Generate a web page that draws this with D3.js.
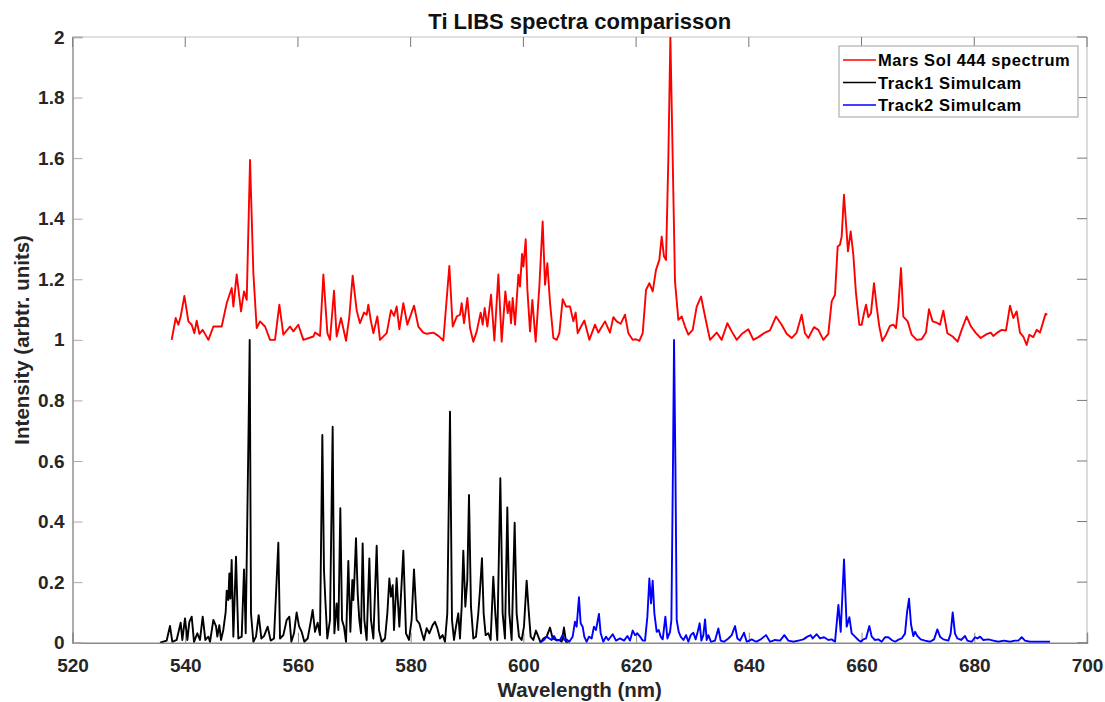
<!DOCTYPE html>
<html>
<head>
<title>Ti LIBS spectra comparisson | D3</title>
<script src="https://d3js.org/d3.v7.min.js" charset="utf-8"></script>
<style>
body {
 margin: 0;
 background: white;
 font-family: "Liberation Sans", Arial, sans-serif;
}
.tick text {
 font-size: 19px;
 font-weight: bold;
 fill: #262626;
}
</style>
</head>
<body>
<script>
// wavelength (nm), intensity pairs
var marsSpectrum = [
 [537.60,1.0],[538.31,1.072],[538.78,1.050],[539.20,1.077],[539.85,1.145],[540.56,1.061],[541.15,1.050],
 [541.62,1.022],[542.04,1.063],[542.51,1.020],[543.10,1.033],[544.11,1.0],[545.00,1.044],[546.47,1.044],
 [547.36,1.121],[548.25,1.171],[548.54,1.110],[549.13,1.216],[549.90,1.094],[550.43,1.160],[550.91,1.132],
 [551.50,1.594],[552.09,1.220],[552.68,1.039],[553.27,1.061],[554.16,1.044],[555.05,1.0],[555.93,1.0],
 [556.70,1.116],[557.41,1.017],[558.59,1.044],[559.19,1.028],[560.07,1.050],[560.96,1.0],[562.73,1.011],
 [563.03,1.024],[563.92,1.013],[564.51,1.216],[565.22,1.022],[565.69,1.0],[566.40,1.162],[566.87,1.011],
 [567.64,1.072],[568.53,0.997],[569.12,1.077],[569.71,1.212],[570.42,1.097],[571.01,1.055],[571.72,1.090],
 [572.20,1.083],[572.49,1.116],[572.91,1.066],[573.38,1.022],[574.09,1.077],[574.56,1.0],[575.75,1.022],
 [576.51,1.098],[577.05,1.079],[577.52,1.110],[577.99,1.035],[578.70,1.121],[579.41,1.050],[580.60,1.113],
 [581.36,1.044],[582.25,1.024],[582.84,1.020],[584.02,1.024],[584.91,1.013],[585.80,0.998],[586.86,1.244],
 [587.46,1.044],[588.17,1.077],[588.76,1.083],[589.05,1.121],[589.47,1.055],[590.06,1.138],[590.53,1.039],
 [591.12,0.994],[591.72,1.028],[592.42,1.090],[592.78,1.050],[593.13,1.105],[593.61,1.044],[594.26,1.149],
 [594.85,0.998],[595.56,1.216],[596.15,0.994],[596.80,1.160],[597.22,1.088],[597.51,1.127],[597.81,1.055],
 [598.10,1.138],[598.52,1.050],[599.11,1.215],[599.40,1.176],[599.76,1.284],[600.00,1.242],[600.41,1.332],
 [600.71,1.165],[601.18,1.028],[601.59,1.132],[602.18,0.994],[602.83,1.176],[603.42,1.391],[603.84,1.182],
 [604.25,1.253],[604.73,1.121],[605.32,1.006],[605.91,1.0],[606.38,1.022],[606.97,1.134],[607.57,1.110],
 [608.27,1.110],[608.87,1.061],[609.28,1.090],[609.63,1.022],[610.23,1.044],[610.82,1.064],[611.70,1.0],
 [612.71,1.050],[613.30,1.024],[614.48,1.061],[615.37,1.024],[615.96,1.075],[616.55,1.061],[617.26,1.053],
 [618.03,1.083],[618.62,1.022],[619.39,1.0],[619.98,1.002],[620.58,0.997],[621.17,1.022],[621.76,1.165],
 [622.35,1.187],[622.94,1.160],[623.53,1.231],[624.12,1.264],[624.54,1.341],[624.95,1.275],[625.31,1.264],
 [625.72,1.6],[626.08,2.0],[626.49,1.6],[626.90,1.193],[627.50,1.066],[628.09,1.077],[628.68,1.044],
 [629.27,1.017],[630.04,1.033],[630.75,1.110],[631.52,1.143],[632.23,1.077],[633.11,1.0],[634.30,1.024],
 [635.18,1.0],[636.19,1.055],[636.96,1.028],[637.84,1.0],[638.73,1.019],[639.91,1.035],[640.80,1.0],
 [641.69,1.009],[642.87,1.024],[643.75,1.031],[644.82,1.077],[645.82,1.050],[646.71,1.020],[647.60,1.006],
 [648.49,1.024],[649.37,1.083],[649.96,1.022],[650.56,1.006],[651.56,1.042],[652.33,1.033],[653.22,1.0],
 [654.10,1.020],[654.70,1.127],[655.29,1.149],[655.76,1.308],[656.17,1.314],[656.47,1.341],[656.88,1.479],
 [657.24,1.385],[657.59,1.292],[658.07,1.358],[658.54,1.281],[659.01,1.154],[659.60,1.050],[660.02,1.050],
 [660.43,1.088],[660.79,1.116],[661.20,1.075],[661.67,1.088],[662.21,1.187],[662.68,1.110],[663.15,1.044],
 [663.68,0.996],[664.34,1.017],[665.04,1.046],[665.64,1.050],[666.11,1.039],[666.52,1.110],[667.00,1.237],
 [667.41,1.077],[668.18,1.061],[668.89,1.017],[669.78,1.0],[670.66,1.002],[671.43,1.024],[671.96,1.101],
 [672.61,1.061],[673.32,1.057],[673.92,1.050],[674.51,1.096],[675.22,1.022],[676.16,1.011],[677.05,0.994],
 [677.76,1.033],[678.65,1.077],[679.42,1.044],[680.30,1.022],[681.13,1.006],[682.20,1.019],[682.91,1.024],
 [683.38,1.013],[684.09,1.024],[684.86,1.033],[685.63,1.031],[686.34,1.113],[686.93,1.072],[687.52,1.094],
 [688.11,1.024],[688.70,1.011],[689.29,0.983],[689.77,1.017],[690.47,1.009],[691.07,1.033],[691.66,1.024],
 [692.25,1.061],[692.66,1.086],[692.96,1.083]
];
var track1Spectrum = [
 [535.53,0],[536.71,0.007],[537.30,0.055],[537.71,0.003],[538.48,0.009],[539.19,0.066],[539.49,0.009],
 [539.96,0.08],[540.38,0.009],[540.73,0.069],[541.15,0.086],[541.56,0.003],[542.15,0.031],[542.62,0.009],
 [543.10,0.086],[543.57,0.009],[544.10,0.02],[544.40,0.003],[544.99,0.075],[545.46,0.055],[545.70,0.02],
 [546.05,0.058],[546.35,0.009],[546.76,0.042],[547.18,0.102],[547.36,0.172],[547.65,0.141],[547.83,0.229],
 [548.01,0.146],[548.24,0.273],[548.54,0.02],[549.01,0.284],[549.42,0.014],[550.02,0.02],[550.43,0.242],
 [550.73,0.031],[551.26,0.735],[551.44,1.0],[551.67,0.097],[552.09,0.003],[552.56,0.02],[553.03,0.091],
 [553.51,0.014],[553.98,0.022],[554.63,0.053],[555.16,0.007],[555.75,0.014],[556.52,0.33],[556.82,0.014],
 [557.41,0.025],[558.00,0.075],[558.47,0.086],[558.83,0.003],[559.30,0.031],[559.77,0.1],[560.19,0.055],
 [560.66,0.036],[561.13,0.003],[561.73,0.014],[562.26,0.069],[562.61,0.108],[563.03,0.036],[563.50,0.066],
 [563.91,0.025],[564.33,0.686],[564.62,0.24],[564.86,0.141],[565.21,0.014],[565.69,0.075],[566.16,0.713],
 [566.46,0.031],[566.87,0.13],[567.17,0.042],[567.52,0.444],[567.82,0.075],[568.17,0.053],[568.53,0.003],
 [568.94,0.27],[569.30,0.036],[569.65,0.207],[569.83,0.141],[570.01,0.207],[570.30,0.345],[570.60,0.163],
 [570.89,0.075],[571.19,0.031],[571.48,0.328],[571.78,0.075],[572.19,0.009],[572.67,0.278],[572.96,0.075],
 [573.38,0.014],[573.97,0.32],[574.38,0.042],[574.86,0.003],[575.45,0.014],[575.86,0.097],[576.22,0.212],
 [576.51,0.152],[576.81,0.19],[577.04,0.042],[577.51,0.213],[577.99,0.053],[578.70,0.304],[579.17,0.031],
 [579.70,0.009],[580.17,0.075],[580.59,0.242],[581.06,0.075],[581.53,0.064],[582.01,0.031],[582.36,0.009],
 [582.84,0.048],[583.31,0.031],[583.90,0.058],[584.31,0.069],[584.73,0.048],[585.20,0.014],[585.67,0.025],
 [586.09,0.003],[586.50,0.097],[586.98,0.763],[587.33,0.075],[587.69,0.009],[588.04,0.053],[588.45,0.097],
 [588.75,0.014],[589.05,0.119],[589.34,0.304],[589.70,0.119],[590.05,0.207],[590.35,0.488],[590.70,0.119],
 [591.12,0.014],[591.59,0.02],[592.00,0.097],[592.30,0.174],[592.65,0.279],[592.95,0.097],[593.30,0.025],
 [593.78,0.031],[594.19,0.009],[594.66,0.218],[595.02,0.097],[595.37,0.009],[595.91,0.543],[596.32,0.097],
 [596.73,0.014],[597.15,0.447],[597.50,0.097],[597.92,0.009],[598.45,0.396],[598.80,0.097],[599.22,0.02],
 [599.69,0.009],[600.10,0.053],[600.58,0.205],[600.93,0.108],[601.29,0.02],[601.76,0.009],[602.23,0.04],
 [602.65,0.02],[603.06,0.0],[603.54,0.014],[604.13,0.02],[604.72,0.05],[605.19,0.014],[605.78,0.009],
 [606.37,0.009],[606.79,0.003],[607.20,0.05],[607.56,0.003],[607.97,0.0]
];
var track2Spectrum = [
 [602.94,0],[603.65,0.009],[604.13,0.02],[604.60,0.014],[605.01,0.009],[605.43,0.022],[605.90,0.007],
 [606.49,0.009],[606.96,0.025],[607.26,0.009],[607.67,0.011],[608.15,0.003],[608.74,0.02],[609.15,0.069],
 [609.45,0.053],[609.86,0.15],[610.16,0.064],[610.51,0.053],[610.81,0.02],[611.22,0.003],[611.64,0.02],
 [612.11,0.014],[612.52,0.053],[612.88,0.042],[613.41,0.095],[613.71,0.031],[614.18,0.003],[614.65,0.02],
 [615.07,0.009],[615.85,0.028],[616.44,0.007],[617.15,0.014],[617.86,0.007],[618.45,0.022],[618.92,0.007],
 [619.40,0.04],[619.81,0.025],[620.22,0.031],[620.70,0.02],[621.17,0.007],[621.58,0.007],[622.00,0.086],
 [622.35,0.212],[622.65,0.130],[622.94,0.205],[623.24,0.097],[623.65,0.036],[624.01,0.042],[624.36,0.02],
 [624.72,0.011],[625.19,0.086],[625.55,0.014],[626.02,0.036],[626.26,0.075],[626.55,0.603],[626.73,1.0],
 [626.97,0.592],[627.20,0.075],[627.56,0.036],[627.91,0.02],[628.39,0.009],[628.86,0.025],[629.27,0.003],
 [629.69,0.025],[630.16,0.033],[630.57,0.011],[630.93,0.036],[631.28,0.064],[631.58,0.007],[631.93,0.025],
 [632.23,0.077],[632.52,0.009],[632.82,0.025],[633.29,0.003],[634.00,0.007],[634.59,0.047],[635.01,0.007],
 [635.60,0.003],[636.37,0.014],[636.96,0.025],[637.55,0.055],[637.97,0.014],[638.44,0.007],[639.15,0.033],
 [639.62,0.003],[640.51,0.011],[641.28,0.003],[642.11,0.011],[643.05,0.025],[643.76,0.003],[644.65,0.009],
 [645.54,0.007],[646.30,0.025],[647.01,0.007],[647.90,0.003],[648.79,0.007],[649.68,0.011],[650.39,0.02],
 [650.98,0.025],[651.33,0.014],[652.04,0.028],[652.63,0.014],[653.34,0.018],[654.11,0.009],[654.70,0.011],
 [655.29,0.003],[655.89,0.125],[656.30,0.036],[656.89,0.275],[657.36,0.053],[657.84,0.084],[658.25,0.031],
 [658.84,0.02],[659.43,0.009],[659.85,0.003],[660.32,0.011],[660.79,0.014],[661.38,0.055],[661.80,0.020],
 [662.39,0.009],[662.98,0.011],[663.57,0.003],[664.16,0.018],[664.75,0.018],[665.35,0.009],[665.94,0.003],
 [666.65,0.011],[667.12,0.014],[667.71,0.03],[668.07,0.10],[668.42,0.145],[668.78,0.06],[669.19,0.022],
 [669.49,0.036],[669.90,0.022],[670.49,0.011],[671.26,0.007],[672.15,0.003],[672.86,0.011],[673.45,0.044],
 [673.92,0.020],[674.51,0.011],[675.40,0.007],[675.81,0.03],[676.17,0.10],[676.58,0.03],[677.00,0.014],
 [677.65,0.009],[678.36,0.022],[678.77,0.007],[679.54,0.003],[680.13,0.018],[680.55,0.014],[681.02,0.020],
 [681.61,0.009],[682.50,0.011],[683.38,0.007],[684.27,0.003],[685.28,0.007],[686.34,0.003],[687.23,0.007],
 [687.82,0.007],[688.41,0.018],[689.00,0.007],[689.89,0.003],[691.07,0.003],[692.26,0.003],[693.44,0.003]
];
var seriesNames = ["Mars Sol 444 spectrum", "Track1 Simulcam", "Track2 Simulcam"];
var seriesColors = ["#ff0000", "#000000", "#0000ff"];
var xTicks = [520, 540, 560, 580, 600, 620, 640, 660, 680, 700];
var yTicks = [0, 0.2, 0.4, 0.6, 0.8, 1, 1.2, 1.4, 1.6, 1.8, 2];

var width = 1105;
var height = 702;
var margin = { left: 72.5, right: 18, top: 37, bottom: 59.3 };
var innerW = width - margin.left - margin.right;
var innerH = height - margin.top - margin.bottom;

var svg = d3.select("body")
 .append("svg")
 .attr("width", width)
 .attr("height", height);

var x = d3.scaleLinear().domain([520, 700]).range([0, innerW]);
var y = d3.scaleLinear().domain([0, 2]).range([innerH, 0]);

var g = svg.append("g")
 .attr("transform", "translate(" + margin.left + "," + margin.top + ")");

// clip so the 2.0 peak stays inside
g.append("clipPath").attr("id", "plotclip")
 .append("rect").attr("width", innerW).attr("height", innerH);

// box lines (top/right lighter)
g.append("line").attr("x1", 0).attr("x2", innerW).attr("y1", 0).attr("y2", 0)
 .attr("stroke", "#c4c4c4").attr("stroke-width", 1.2);
g.append("line").attr("x1", innerW).attr("x2", innerW).attr("y1", 0).attr("y2", innerH)
 .attr("stroke", "#c4c4c4").attr("stroke-width", 1.2);

// inward ticks on top and right
g.selectAll(".ttick").data(xTicks).enter().append("line")
 .attr("x1", function(d) { return x(d); }).attr("x2", function(d) { return x(d); })
 .attr("y1", 0).attr("y2", 10).attr("stroke", "#777");
g.selectAll(".rtick").data(yTicks).enter().append("line")
 .attr("x1", innerW).attr("x2", innerW - 10)
 .attr("y1", function(d) { return y(d); }).attr("y2", function(d) { return y(d); })
 .attr("stroke", "#777");

var xAxis = g.append("g")
 .attr("transform", "translate(0," + innerH + ")")
 .call(d3.axisBottom(x).tickValues(xTicks).tickSize(-10).tickPadding(16).tickFormat(d3.format("d")));
var yAxis = g.append("g")
 .call(d3.axisLeft(y).tickValues(yTicks).tickSize(-10).tickPadding(16).tickFormat(function(d) { return d3.format("")(+d.toFixed(1)); }));

xAxis.select(".domain").attr("stroke", "#8a8a8a").attr("stroke-width", 1.4);
yAxis.select(".domain").attr("stroke", "#8a8a8a").attr("stroke-width", 1.4);
xAxis.selectAll(".tick line").attr("stroke", "#888");
yAxis.selectAll(".tick line").attr("stroke", "#aaa");
xAxis.selectAll(".tick text").attr("dy", "0.71em");
yAxis.selectAll(".tick text").attr("dx", "8");

var line = d3.line()
 .x(function(d) { return x(d[0]); })
 .y(function(d) { return y(d[1]); });

var plot = g.append("g").attr("clip-path", "url(#plotclip)");
[marsSpectrum, track1Spectrum, track2Spectrum].forEach(function(s, i) {
 plot.append("path")
  .datum(s)
  .attr("fill", "none")
  .attr("stroke", seriesColors[i])
  .attr("stroke-width", 1.9)
  .attr("stroke-linejoin", "round")
  .attr("d", line);
});

// title and axis labels
svg.append("text")
 .attr("x", margin.left + innerW / 2).attr("y", 29)
 .attr("text-anchor", "middle")
 .style("font-size", "22px").style("font-weight", "bold").style("fill", "#111")
 .text("Ti LIBS spectra comparisson");
svg.append("text")
 .attr("x", margin.left + innerW / 2).attr("y", 697)
 .attr("text-anchor", "middle")
 .style("font-size", "20.5px").style("font-weight", "bold").style("fill", "#262626")
 .text("Wavelength (nm)");
svg.append("text")
 .attr("transform", "translate(29," + (margin.top + innerH / 2) + ") rotate(-90)")
 .attr("text-anchor", "middle")
 .style("font-size", "20.5px").style("font-weight", "bold").style("fill", "#262626")
 .text("Intensity (arbtr. units)");

// legend
var legend = svg.append("g").attr("transform", "translate(839,46)");
legend.append("rect")
 .attr("width", 239).attr("height", 71)
 .attr("fill", "white").attr("stroke", "#b0b0b0").attr("stroke-width", 1.2);
seriesNames.forEach(function(name, i) {
 var ly = 14 + i * 22.5;
 legend.append("line")
  .attr("x1", 4).attr("x2", 37).attr("y1", ly).attr("y2", ly)
  .attr("stroke", seriesColors[i]).attr("stroke-width", 1.6);
 legend.append("text")
  .attr("x", 39).attr("y", ly + 6)
  .style("font-size", "16.5px").style("font-weight", "bold").style("fill", "#000")
  .style("letter-spacing", "0.6px")
  .text(name);
});
</script>
</body>
</html>
